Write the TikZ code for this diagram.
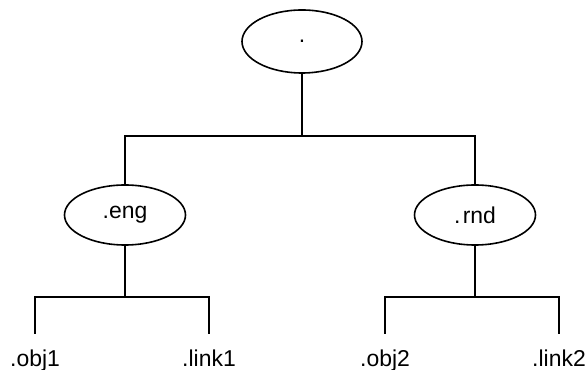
\documentclass[tikz,border=0pt]{standalone}
\usepackage{fontspec}
\setmainfont{Liberation Sans}
\usetikzlibrary{shapes.geometric}

\begin{document}
\begin{tikzpicture}[x=0.75pt,y=0.75pt,
    font=\fontsize{17.2}{20}\selectfont,
    dom/.style={draw,ellipse,line width=1.2pt,inner sep=0pt,minimum width=90.75pt,minimum height=45pt},
    leaf/.style={anchor=base,inner xsep=0pt,inner ysep=12.75pt,text height=12pt,text depth=3.5pt},
    edge/.style={line width=1.5pt}]
    \useasboundingbox (0,0) rectangle (585,370);

    \node[dom,minimum width=90pt,minimum height=47.25pt] (root) at (302,328.5) {.};
    \node[dom] (eng) at (125,155) {.eng};
    \node[dom] (rnd) at (475,155) {.\hspace{0.1em}rnd};

    \node[leaf] (obj1)  at (35,3)  {.obj1};
    \node[leaf] (link1) at (209,3) {.link1};
    \node[leaf] (obj2)  at (385,3) {.obj2};
    \node[leaf] (link2) at (559,3) {.link2};

    \draw[edge] (root.south) -- ++(0,-62) coordinate (rootsplit);
    \draw[edge] (eng.north) |- (rootsplit) -| (rnd.north);
    \draw[edge] (eng.south) -- ++(0,-51) coordinate (engsplit);
    \draw[edge] (obj1.north) |- (engsplit) -| (link1.north);
    \draw[edge] (rnd.south) -- ++(0,-51) coordinate (rndsplit);
    \draw[edge] (obj2.north) |- (rndsplit) -| (link2.north);
  \end{tikzpicture}
\end{document}
